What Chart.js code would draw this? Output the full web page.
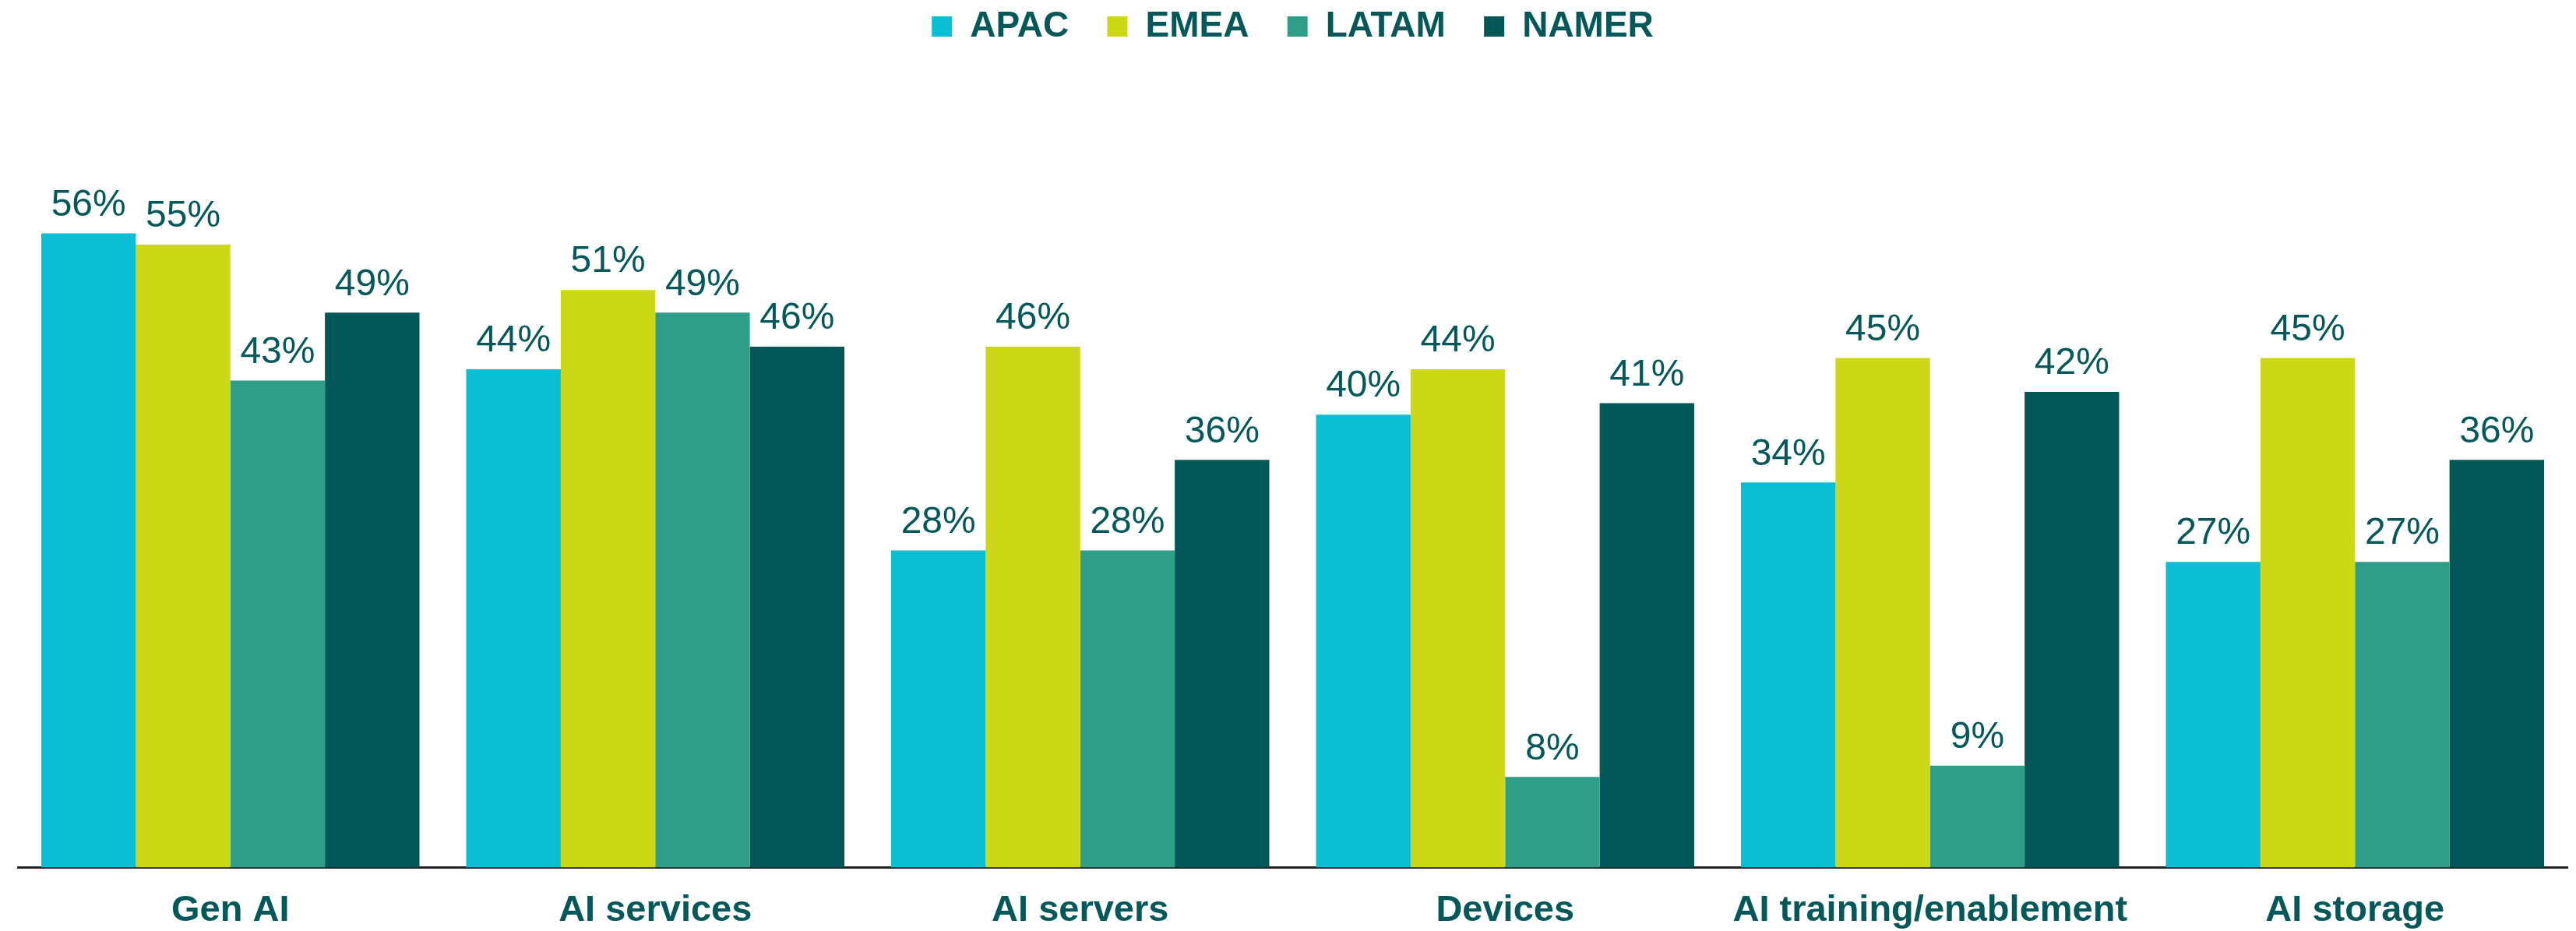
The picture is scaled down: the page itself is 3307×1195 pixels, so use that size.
<!DOCTYPE html>
<html>
<head>
<meta charset="utf-8">
<title>AI spend by region</title>
<script src="https://cdn.jsdelivr.net/npm/chart.js@4/dist/chart.umd.min.js"></script>
<style>
  html, body { margin: 0; padding: 0; background: #fff; overflow: hidden; }
  #wrap { width: 3307px; height: 1195px; }
</style>
</head>
<body>
<div id="wrap"><canvas id="chart" width="3307" height="1195"></canvas></div>
<script>
  // ---- data ----
  var categories = ["Gen AI", "AI services", "AI servers", "Devices", "AI training/enablement", "AI storage"];
  var regions = ["APAC", "EMEA", "LATAM", "NAMER"];
  var apac  = [56, 44, 28, 40, 34, 27];
  var emea  = [55, 51, 46, 44, 45, 45];
  var latam = [43, 49, 28, 8, 9, 27];
  var namer = [49, 46, 36, 41, 42, 36];
  var colors = ["#0abed6", "#ccd815", "#2e9e88", "#025858"];

  var TEXT = "#03585a";

  // draws "56%" style labels above each bar
  var barLabels = {
    id: "barLabels",
    afterDatasetsDraw: function (chart) {
      var ctx = chart.ctx;
      ctx.save();
      ctx.fillStyle = TEXT;
      ctx.font = "48px 'Liberation Sans', Arial, sans-serif";
      ctx.textAlign = "center";
      ctx.textBaseline = "bottom";
      chart.data.datasets.forEach(function (ds, i) {
        var meta = chart.getDatasetMeta(i);
        meta.data.forEach(function (bar, j) {
          ctx.fillText(ds.data[j] + "%", bar.x, bar.y - 12);
        });
      });
      ctx.restore();
    }
  };

  var series = [apac, emea, latam, namer];
  var datasets = regions.map(function (r, i) {
    return {
      label: r,
      data: series[i],
      backgroundColor: colors[i],
      borderWidth: 0
    };
  });

  new Chart(document.getElementById("chart"), {
    type: "bar",
    data: { labels: categories, datasets: datasets },
    plugins: [barLabels],
    options: {
      responsive: false,
      animation: false,
      layout: { padding: { left: 23, right: 11, top: 0, bottom: -29 } },
      datasets: { bar: { categoryPercentage: 0.89, barPercentage: 1.0 } },
      plugins: {
        legend: {
          position: "top",
          labels: {
            color: TEXT,
            font: { family: "'Liberation Sans', Arial, sans-serif", size: 46, weight: "bold" },
            boxWidth: 26,
            boxHeight: 26,
            padding: 11,
            // trailing spaces widen the gap between legend entries
            generateLabels: function (chart) {
              var items = Chart.defaults.plugins.legend.labels.generateLabels(chart);
              items.forEach(function (it, i) {
                if (i < items.length - 1) it.text = it.text + "   ";
              });
              return items;
            }
          }
        },
        tooltip: { enabled: false }
      },
      scales: {
        x: {
          grid: { display: false, drawTicks: false },
          border: { display: true, color: "#222", width: 3 },
          ticks: {
            color: TEXT,
            padding: 27,
            font: { family: "'Liberation Sans', Arial, sans-serif", size: 47, weight: "bold" }
          }
        },
        y: {
          display: false,
          min: 0,
          max: 72
        }
      }
    }
  });
</script>
</body>
</html>
